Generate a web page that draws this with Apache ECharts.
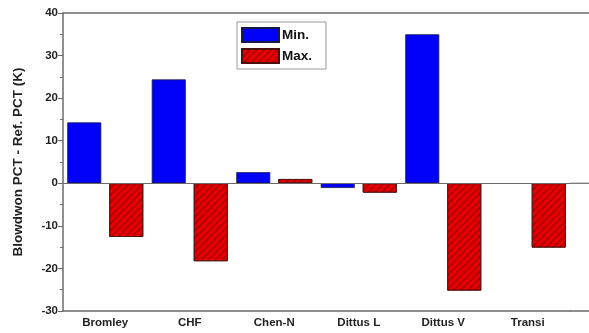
<!DOCTYPE html>
<html><head><meta charset="utf-8">
<script src="https://cdn.jsdelivr.net/npm/echarts@6/dist/echarts.min.js"></script>
<style>html,body{margin:0;padding:0;background:#fff}#c{width:589px;height:333px}</style>
</head><body><div id="c"></div>
<script>
const categories = ['Bromley', 'CHF', 'Chen-N', 'Dittus L', 'Dittus V', 'Transi'];
const minValues = [14.3, 24.4, 2.6, -1.1, 35.0, null];
const maxValues = [-12.6, -18.3, 1.0, -2.2, -25.2, -15.1];
const yTicks = { min: -30, max: 40, interval: 10 };
const seriesNames = ['Min.', 'Max.'];
const yTitle = 'Blowdwon PCT - Ref. PCT (K)';

const chart = echarts.init(document.getElementById('c'), null, { renderer: 'canvas' });
const axisCol = '#6a6a6a';
const font = 'Liberation Sans, Arial, sans-serif';
const option = {
  animation: false,
  backgroundColor: '#fff',
  grid: { left: 63, right: 19, top: 13, bottom: 22 },
  legend: {
    orient: 'vertical', left: 237, top: 22,
    itemWidth: 37, itemHeight: 14, itemGap: 5,
    padding: [5, 14, 5, 4],
    borderColor: '#999', borderWidth: 1,
    icon: 'rect',
    textStyle: { fontFamily: font, fontWeight: 'bold', fontSize: 13.5, color: '#111', padding: [0, 0, 0, -2] },
    data: seriesNames
  },
  xAxis: [{
    type: 'category', data: categories, position: 'bottom',
    axisLine: { onZero: false, lineStyle: { color: axisCol, width: 1.5 } },
    axisTick: { show: false },
    axisLabel: { fontFamily: font, fontWeight: 'bold', fontSize: 11.5, color: '#222', margin: 6 }
  }, {
    type: 'category', data: categories, position: 'top',
    axisLine: { onZero: false, lineStyle: { color: axisCol, width: 1.5 } },
    axisTick: { show: false }, axisLabel: { show: false }
  }],
  yAxis: {
    type: 'value', min: yTicks.min, max: yTicks.max, interval: yTicks.interval,
    name: yTitle, nameLocation: 'middle', nameGap: 38,
    nameTextStyle: { fontFamily: font, fontWeight: 'bold', fontSize: 13.5, color: '#222' },
    axisLine: { show: true, lineStyle: { color: axisCol, width: 1.5 } },
    axisTick: { show: true, length: 5, lineStyle: { color: axisCol } },
    minorTick: { show: true, splitNumber: 2, length: 3, lineStyle: { color: axisCol } },
    splitLine: { show: false },
    axisLabel: { fontFamily: font, fontWeight: 'bold', fontSize: 11.5, color: '#222', margin: 5 }
  },
  series: [{
    name: seriesNames[0], type: 'bar', data: minValues, barWidth: 34, barGap: '23.5%',
    itemStyle: { color: '#0000f8', borderColor: '#1a1a4a', borderWidth: 0.8 },
    markLine: {
      silent: true, symbol: 'none', label: { show: false },
      lineStyle: { color: axisCol, width: 1.2, type: 'solid' },
      data: [{ yAxis: 0 }]
    }
  }, {
    name: seriesNames[1], type: 'bar', data: maxValues, barWidth: 34,
    itemStyle: {
      color: '#e80000', borderColor: '#4a1010', borderWidth: 0.8,
      decal: { symbol: 'rect', symbolSize: 1, dashArrayX: [1, 0], dashArrayY: [1.5, 2.5], rotation: -Math.PI / 4, color: 'rgba(140,0,0,0.55)' }
    }
  }]
};
chart.setOption(option);
// extend the frame lines to the right edge, as in the reference
const gridRight = 589 - 19;
const ys = [yTicks.max, 0, yTicks.min].map(v => chart.convertToPixel({ yAxisIndex: 0 }, v));
chart.setOption({
  graphic: ys.map((y, i) => ({
    type: 'line', silent: true,
    shape: { x1: gridRight, y1: y, x2: 589, y2: y },
    style: { stroke: axisCol, lineWidth: i === 1 ? 1.2 : 1.5 }
  }))
});
</script></body></html>
